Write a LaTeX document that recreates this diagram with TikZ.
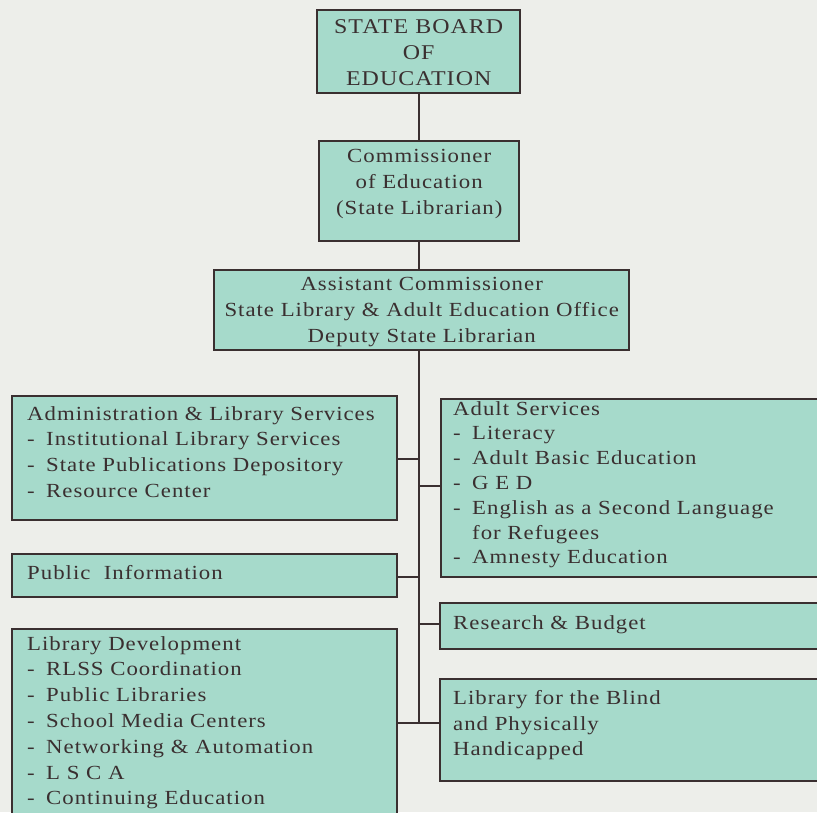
\documentclass[tikz,border=0pt]{standalone}
\usepackage{fontspec}
\setmainfont{Liberation Serif}[LetterSpace=5,FakeStretch=1.14]
\definecolor{bg}{HTML}{EDEEEA}
\definecolor{boxfill}{HTML}{A6DACB}
\definecolor{edge}{HTML}{3A2F30}
\newcommand{\itm}[1]{\makebox[19pt][l]{-}#1}
\newcommand{\ind}[1]{\hspace*{19pt}#1}
\begin{document}
\begin{tikzpicture}[x=1pt,y=-1pt,
  box/.style={draw=edge,fill=boxfill,line width=2.4pt,anchor=north west,inner sep=0pt},
  lbl/.style={inner sep=0pt,font=\fontsize{20}{25.8}\selectfont,text=edge},
  ltxt/.style={lbl,anchor=north west,align=left},
  conn/.style={draw=edge,line width=2.4pt}]
\useasboundingbox (0,0) rectangle (817,812);
\fill[bg] (0,0) rectangle (817,812);
\clip (0,0) rectangle (817,812);
\coordinate (trunkbot) at (419,723);
% top chain
\node[box,minimum width=203pt,minimum height=83pt] (sb) at (316,9) {};
\node[lbl,align=center,font=\fontsize{21}{26}\selectfont] (sbt) at ([yshift=-1pt]sb.center) {STATE BOARD\\OF\\EDUCATION};
\node[box,minimum width=200pt,minimum height=100pt] (ce) at (318,140) {};
\node[lbl,align=center] (cet) at ([yshift=7pt]ce.center) {Commissioner\\of Education\\(State Librarian)};
\node[box,minimum width=415pt,minimum height=80pt] (ac) at (213,269) {};
\node[lbl,align=center] (act) at ([yshift=-2pt]ac.center) {Assistant Commissioner\\State Library \& Adult Education Office\\Deputy State Librarian};
% left column
\node[box,minimum width=385pt,minimum height=124pt] (adm) at (11,395) {};
\node[ltxt] (admt) at (27,406) {Administration \& Library Services\\\itm{Institutional Library Services}\\\itm{State Publications Depository}\\\itm{Resource Center}};
\node[box,minimum width=385pt,minimum height=43pt] (pi) at (11,553) {};
\node[ltxt] (pit) at (27,565) {Public\ \ Information};
\node[box,minimum width=385pt,minimum height=200pt] (ld) at (11,628) {};
\node[ltxt] (ldt) at (27,636) {Library Development\\\itm{RLSS Coordination}\\\itm{Public Libraries}\\\itm{School Media Centers}\\\itm{Networking \& Automation}\\\itm{L S C A}\\\itm{Continuing Education}};
% right column
\node[box,minimum width=400pt,minimum height=178pt] (as) at (440,398) {};
\node[ltxt,font=\fontsize{20}{24.8}\selectfont] (ast) at (453,401) {Adult Services\\\itm{Literacy}\\\itm{Adult Basic Education}\\\itm{G E D}\\\itm{English as a Second Language}\\\ind{for Refugees}\\\itm{Amnesty Education}};
\node[box,minimum width=400pt,minimum height=46pt] (rb) at (439,602) {};
\node[ltxt] (rbt) at (453,615) {Research \& Budget};
\node[box,minimum width=400pt,minimum height=102pt] (lb) at (439,678) {};
\node[ltxt] (lbt) at (453,690) {Library for the Blind\\and Physically\\Handicapped};
% connectors
\draw[conn] (sb.south -| trunkbot) -- (ce.north -| trunkbot);
\draw[conn] (ce.south -| trunkbot) -- (ac.north -| trunkbot);
\draw[conn] (ac.south -| trunkbot) -- (trunkbot);
\draw[conn] (adm.east |- 0,459) -- (trunkbot |- 0,459);
\draw[conn] (trunkbot |- 0,486) -- (as.west |- 0,486);
\draw[conn] (pi.east |- 0,577) -- (trunkbot |- 0,577);
\draw[conn] (trunkbot |- 0,624) -- (rb.west |- 0,624);
\draw[conn] (ld.east |- trunkbot) -- (lb.west |- trunkbot);
\end{tikzpicture}
\end{document}
